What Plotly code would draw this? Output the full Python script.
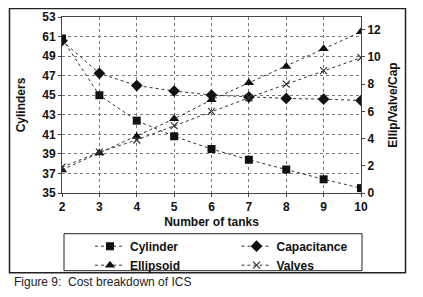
import plotly.graph_objects as go

tanks = [2, 3, 4, 5, 6, 7, 8, 9, 10]
cylinder = [50.8, 45.0, 42.4, 40.8, 39.5, 38.4, 37.4, 36.4, 35.5]
capacitance = [11.2, 8.8, 7.9, 7.5, 7.2, 7.05, 6.95, 6.9, 6.8]
ellipsoid = [1.7, 2.95, 4.15, 5.45, 6.85, 8.1, 9.3, 10.6, 11.85]
valves = [1.9, 3.0, 3.9, 4.95, 6.0, 7.0, 8.0, 9.0, 9.95]

left_ticks = [35, 37, 39, 41, 43, 45, 47, 49, 51, 53]
left_labels = ["35", "37", "39", "41", "43", "45", "47", "49", "61", "53"]
right_ticks = [0, 2, 4, 6, 8, 10, 12]

FONT = "Liberation Sans, Arial, sans-serif"
LINE = dict(color="#333333", width=1, dash="dot")

fig = go.Figure()
fig.add_trace(go.Scatter(x=tanks, y=cylinder, name="Cylinder", mode="lines+markers",
                         line=LINE, marker=dict(symbol="square", size=8, color="#111111")))
fig.add_trace(go.Scatter(x=tanks, y=capacitance, name="Capacitance", mode="lines+markers", yaxis="y2",
                         line=LINE, marker=dict(symbol="diamond", size=9, color="#111111")))
fig.add_trace(go.Scatter(x=tanks, y=ellipsoid, name="Ellipsoid", mode="lines+markers", yaxis="y2",
                         line=LINE, marker=dict(symbol="triangle-up", size=9, color="#111111")))
fig.add_trace(go.Scatter(x=tanks, y=valves, name="Valves", mode="lines+markers", yaxis="y2",
                         line=LINE, marker=dict(symbol="x-thin", size=7,
                                                line=dict(color="#333333", width=1.2))))

# page has an 8px body margin; work in page coordinates and convert
OFF = 8
W, H = 423 - 2 * OFF, 297 - 2 * OFF
PL, PR, PT, PB = 62, 361, 17.3, 193.3  # plot area in page pixels
L, R, T, B = PL - OFF, W - (PR - OFF), PT - OFF, H - (PB - OFF)
pw, ph = W - L - R, H - T - B

def px(x):
    return (x - OFF - L) / pw

def py(y):
    return (H - B - (y - OFF)) / ph

axis_font = dict(family=FONT, size=12, color="#111111")
tick_font = dict(family=FONT, size=12, color="#111111", weight="bold")

fig.update_layout(
    width=W, height=H,
    margin=dict(l=L, r=R, t=T, b=B, autoexpand=False),
    paper_bgcolor="white", plot_bgcolor="white",
    font=dict(family=FONT, color="#111111"),
    showlegend=True,
    xaxis=dict(range=[2, 10], tickvals=tanks, showgrid=True, gridcolor="#777777", griddash="dot",
               gridwidth=1, showline=True, linecolor="#444444", mirror=True, zeroline=False,
               ticks="outside", ticklen=3, tickcolor="#444444", automargin=False,
               tickfont=tick_font,
               title=dict(text="<b>Number of tanks</b>", font=axis_font, standoff=4)),
    yaxis=dict(range=[35, 53], tickvals=left_ticks, ticktext=left_labels, showgrid=True,
               gridcolor="#777777", griddash="dot", gridwidth=1, showline=True, linecolor="#444444",
               mirror=True, zeroline=False, ticks="outside", ticklen=3, tickcolor="#444444",
               automargin=False, tickfont=tick_font,
               title=dict(text="<b>Cylinders</b>", font=axis_font, standoff=14)),
    yaxis2=dict(range=[0, 12.94], tickvals=right_ticks, overlaying="y", side="right", showgrid=False,
                zeroline=False, showline=True, linecolor="#444444", ticks="outside", ticklen=3,
                tickcolor="#444444", automargin=False, tickfont=tick_font,
                title=dict(text="<b>Ellip/Valve/Cap</b>", font=axis_font, standoff=8)),
    legend=dict(orientation="h", x=px(90), xanchor="left", y=py(232), yanchor="top",
                borderwidth=0, bgcolor="rgba(0,0,0,0)",
                font=dict(family=FONT, size=12, color="#111111", weight="bold"),
                entrywidth=0.49, entrywidthmode="fraction", itemwidth=30, tracegroupgap=0),
    shapes=[
        dict(type="rect", xref="paper", yref="paper", x0=px(9.5), x1=px(405.5),
             y0=py(273), y1=py(8.7), line=dict(color="#222222", width=1.5)),
        dict(type="rect", xref="paper", yref="paper", x0=px(64), x1=px(362),
             y0=py(271), y1=py(234), line=dict(color="#222222", width=1)),
    ],
    annotations=[dict(text="Figure 9:  Cost breakdown of ICS", xref="paper", yref="paper",
                      x=px(12), y=py(282), xanchor="left", yanchor="middle", showarrow=False,
                      font=dict(family=FONT, size=12, color="#222222"))],
)

fig.write_html("out.html")
